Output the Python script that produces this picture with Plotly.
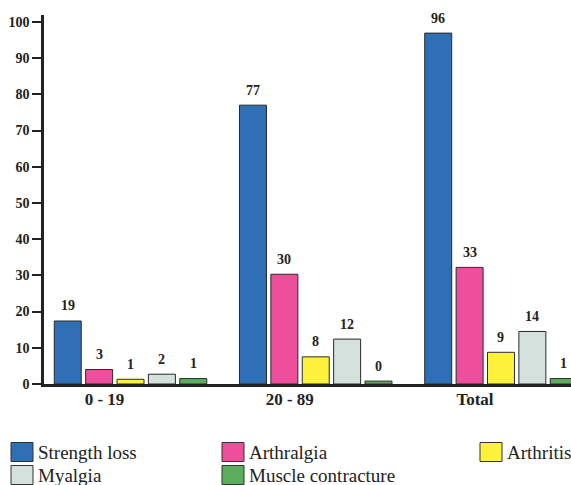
import plotly.graph_objects as go

categories = ["0 - 19", "20 - 89", "Total"]
series_names = ["Strength loss", "Arthralgia", "Arthritis", "Myalgia", "Muscle contracture"]

# bar heights as drawn in the picture
strength_loss = [17.4, 77.0, 96.9]
arthralgia = [4.0, 30.3, 32.2]
arthritis = [1.3, 7.5, 8.75]
myalgia = [2.7, 12.4, 14.5]
muscle_contracture = [1.5, 0.8, 1.5]

# value labels printed above the bars
strength_loss_labels = ["19", "77", "96"]
arthralgia_labels = ["3", "30", "33"]
arthritis_labels = ["1", "8", "9"]
myalgia_labels = ["2", "12", "14"]
muscle_contracture_labels = ["1", "0", "1"]

y_ticks = list(range(0, 101, 10))

colors = ["#2E6FB5", "#EE4F9C", "#FFF23C", "#D4E1DD", "#5AAE5C"]

values = [strength_loss, arthralgia, arthritis, myalgia, muscle_contracture]
labels = [strength_loss_labels, arthralgia_labels, arthritis_labels,
          myalgia_labels, muscle_contracture_labels]

W, H = 571, 485
ML, MR, MT, MB = 44, 0, 15, 101
PW, PH = W - ML - MR, H - MT - MB
XR = [-0.467, 2.378]
YR = [0, 101.9]
BARGAP = 0.153
BARGROUPGAP = 0.14
px_per_unit = PW / (XR[1] - XR[0])
slot_px = (1 - BARGAP) / len(series_names) * px_per_unit

SERIF = "Liberation Serif"
DARK = "#222222"

fig = go.Figure()
for name, vals, col in zip(series_names, values, colors):
    fig.add_trace(go.Bar(
        name=name, x=categories, y=vals,
        marker=dict(color=col, line=dict(color="#2a2a2a", width=1)),
        showlegend=False, hoverinfo="x+y+name",
    ))

annotations = []
n = len(series_names)
for i, labs in enumerate(labels):
    for cat, v, lab in zip(categories, values[i], labs):
        annotations.append(dict(
            x=cat, y=v, xref="x", yref="y", text=lab, showarrow=False,
            xshift=(i - (n - 1) / 2) * slot_px, yshift=15,
            xanchor="center", yanchor="middle",
            font=dict(family=SERIF, size=14, color=DARK, weight="bold"),
        ))


def px_x(p):
    return (p - ML) / PW


def px_y(p):
    return (H - MB - p) / PH


# custom legend: (column left px, swatch top px)
legend_slots = [(11, 442.5), (222, 442.5), (480, 442.5), (11, 465.5), (222, 465.5)]
shapes = []
for name, col, (lx, ly) in zip(series_names, colors, legend_slots):
    shapes.append(dict(
        type="rect", xref="paper", yref="paper",
        x0=px_x(lx), x1=px_x(lx + 22), y0=px_y(ly + 19), y1=px_y(ly),
        fillcolor=col, line=dict(color="#333333", width=1),
    ))
    annotations.append(dict(
        x=px_x(lx + 24.5), y=px_y(ly + 9.5), xref="paper", yref="paper",
        text=name, showarrow=False, xanchor="left", yanchor="middle",
        font=dict(family=SERIF, size=19, color=DARK),
    ))

fig.update_layout(
    width=W, height=H,
    margin=dict(l=ML, r=MR, t=MT, b=MB, pad=0),
    paper_bgcolor="white", plot_bgcolor="white",
    barmode="group", bargap=BARGAP, bargroupgap=BARGROUPGAP,
    showlegend=False,
    annotations=annotations, shapes=shapes,
    xaxis=dict(
        type="category", range=XR, showgrid=False, zeroline=False,
        showline=True, linecolor=DARK, linewidth=2.5,
        ticks="", ticklabelshift=-26, ticklabelstandoff=-2,
        tickfont=dict(family=SERIF, size=17, color=DARK, weight="bold"),
    ),
    yaxis=dict(
        range=YR, tickvals=y_ticks, showgrid=False, zeroline=False,
        showline=True, linecolor=DARK, linewidth=2.5,
        ticks="outside", ticklen=9, tickwidth=2, tickcolor=DARK,
        tickfont=dict(family=SERIF, size=14, color=DARK, weight="bold"),
    ),
)

fig.write_html("out.html")
